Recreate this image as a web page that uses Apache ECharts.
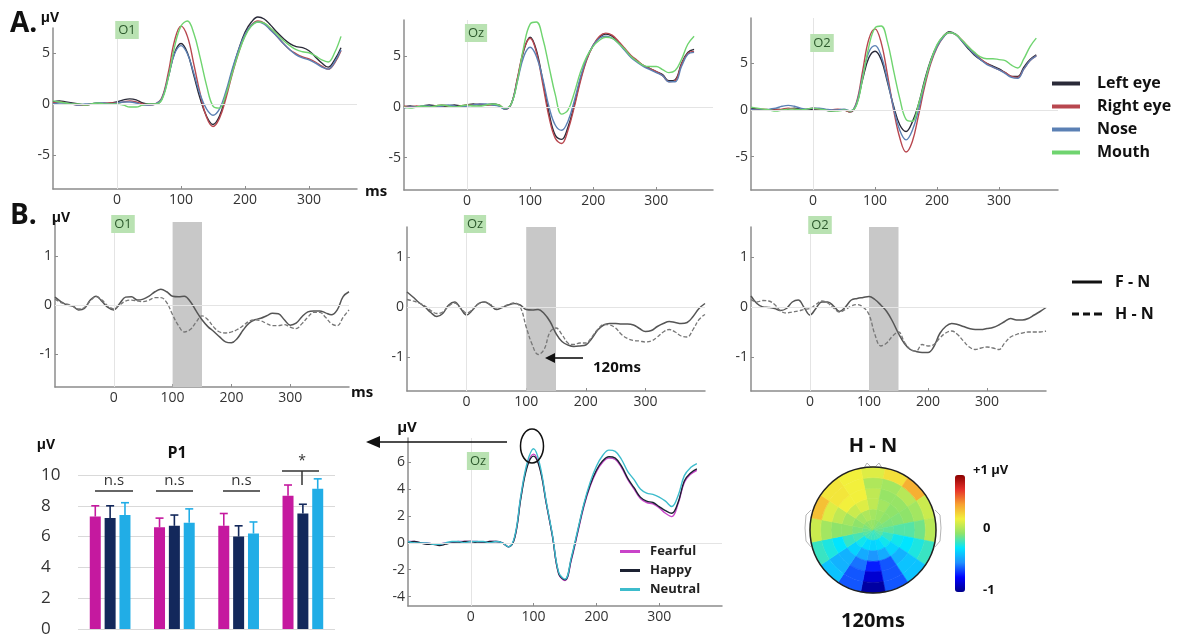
<!DOCTYPE html>
<html>
<head>
<meta charset="utf-8">
<script src="https://cdn.jsdelivr.net/npm/echarts@6/dist/echarts.min.js"></script>
<style>
  html, body { margin: 0; padding: 0; background: #fff; }
  #main { width: 1184px; height: 637px; }
</style>
</head>
<body>
<div id="main"></div>
<script>
// time bases (ms)
const tA = [-100,-90,-80,-70,-60,-50,-40,-30,-20,-10,0,10,20,30,40,50,60,70,80,90,100,110,120,130,140,150,160,170,180,190,200,210,220,230,240,250,260,270,280,290,300,310,320,330,340,350,360];
const tB = [-100,-90,-80,-70,-60,-50,-40,-30,-20,-10,0,10,20,30,40,50,60,70,80,90,100,110,120,130,140,150,160,170,180,190,200,210,220,230,240,250,260,270,280,290,300,310,320,330,340,350,360,370,380,390,400];

// A. ERPs per face region (µV)
const regions = ['Left eye', 'Right eye', 'Nose', 'Mouth'];
const o1Left  = [0.2,0.3,0.2,0.1,0.0,-0.1,0.0,0.1,0.0,0.1,0.2,0.4,0.5,0.4,0.1,0.0,0.0,0.5,2.6,5.0,5.9,5.0,2.8,0.5,-1.2,-2.0,-1.2,0.8,3.2,5.3,7.0,8.0,8.5,8.3,7.7,7.0,6.4,5.9,5.6,5.5,5.2,4.6,4.0,3.6,4.3,5.5];
const o1Right = [0.1,0.2,0.1,0.0,-0.1,-0.1,0.0,0.0,0.1,0.1,0.1,0.2,0.3,0.2,0.0,-0.1,0.0,0.6,3.0,6.2,7.6,6.6,3.9,1.0,-1.3,-2.2,-1.4,0.5,2.9,5.0,6.7,7.7,8.1,7.9,7.3,6.6,5.9,5.3,4.9,4.6,4.4,4.1,3.7,3.4,4.0,5.2];
const o1Nose  = [0.0,0.1,0.1,0.0,-0.1,0.0,0.0,0.1,0.1,0.0,0.1,0.2,0.2,0.1,-0.1,-0.1,0.0,0.5,2.6,4.9,5.7,4.9,3.0,0.9,-0.5,-1.1,-0.5,1.2,3.4,5.3,6.8,7.7,8.0,7.8,7.2,6.6,5.9,5.3,4.8,4.5,4.3,4.0,3.6,3.4,4.1,5.3];
const o1Mouth = [0.3,0.2,0.1,0.0,0.0,-0.1,0.0,0.1,0.0,0.0,0.0,-0.1,-0.3,-0.3,-0.1,0.0,0.0,0.4,2.5,5.6,7.6,8.1,6.9,4.5,1.8,-0.2,-0.4,0.9,3.0,5.0,6.6,7.6,8.0,7.9,7.4,6.8,6.2,5.7,5.3,5.1,5.0,4.7,4.3,4.1,5.0,6.6];

const ozLeft  = [0.0,0.1,0.0,0.1,0.2,0.1,0.0,0.1,0.2,0.1,0.2,0.3,0.2,0.2,0.3,0.2,-0.2,0.3,2.8,5.6,6.9,5.6,2.6,-0.6,-2.8,-3.2,-2.0,0.2,2.8,4.8,6.1,6.9,7.2,7.0,6.4,5.7,5.0,4.5,4.1,3.8,3.5,3.2,2.6,2.7,4.3,5.4,5.7];
const ozRight = [0.1,0.0,0.1,0.0,0.0,0.1,0.2,0.1,0.0,0.1,0.2,0.2,0.3,0.2,0.2,0.2,-0.2,0.3,2.9,5.7,6.8,5.4,2.3,-1.0,-3.1,-3.6,-2.3,0.0,2.6,4.7,6.1,7.0,7.3,7.1,6.5,5.8,5.1,4.6,4.1,3.8,3.5,3.1,2.5,2.6,4.2,5.3,5.5];
const ozNose  = [-0.1,0.0,0.0,0.1,0.1,0.0,0.1,0.2,0.1,0.0,0.1,0.2,0.3,0.3,0.2,0.1,-0.2,0.3,2.6,5.0,5.9,5.0,2.8,0.0,-1.8,-2.3,-1.4,0.6,3.0,4.9,6.1,6.8,7.0,6.8,6.3,5.6,4.9,4.4,4.0,3.7,3.4,3.1,2.5,2.5,4.0,5.2,5.4];
const ozMouth = [0.0,-0.1,0.0,0.1,0.0,0.1,0.2,0.1,0.0,0.1,0.2,0.1,0.1,0.2,0.3,0.2,-0.1,0.3,2.6,6.0,8.2,8.4,6.8,4.0,1.2,-0.7,-0.3,1.4,3.5,5.0,6.0,6.6,6.9,6.8,6.3,5.7,5.0,4.5,4.1,4.0,4.0,3.7,3.4,3.6,4.7,6.2,7.0];

const o2Left  = [0.2,0.1,0.0,0.0,0.1,0.0,0.1,0.2,0.1,0.0,0.1,0.1,0.0,-0.1,0.0,0.0,-0.2,0.6,3.3,5.6,6.3,5.4,3.0,0.4,-1.6,-2.3,-1.3,0.6,3.2,5.4,6.9,7.9,8.4,8.1,7.4,6.6,5.9,5.4,5.0,4.7,4.4,4.0,3.6,3.6,4.6,5.4,5.9];
const o2Right = [0.0,0.1,0.1,0.0,0.0,0.1,0.2,0.1,0.0,0.1,0.2,0.1,0.0,0.0,0.1,0.0,-0.2,0.8,4.2,7.6,8.7,7.2,3.8,0.0,-3.0,-4.5,-3.4,-0.6,2.5,5.0,6.7,7.8,8.3,8.1,7.5,6.8,6.1,5.5,5.0,4.6,4.3,4.0,3.6,3.5,4.4,5.3,5.8];
const o2Nose  = [0.1,0.0,0.0,0.1,0.2,0.4,0.5,0.4,0.2,0.1,0.2,0.2,0.1,0.0,0.0,0.1,-0.1,0.7,3.6,6.2,6.9,5.8,3.2,0.2,-2.2,-3.2,-2.2,0.0,2.9,5.2,6.8,7.8,8.3,8.1,7.4,6.7,6.0,5.4,4.9,4.6,4.3,3.9,3.5,3.4,4.4,5.3,5.8];
const o2Mouth = [0.3,0.2,0.1,0.0,-0.1,0.0,0.1,0.1,0.0,0.1,0.2,0.1,0.0,-0.1,-0.1,0.0,-0.1,0.5,3.4,6.8,8.8,9.0,7.3,4.2,1.2,-1.0,-1.2,0.6,3.0,5.3,7.0,7.9,8.3,8.1,7.5,6.8,6.2,5.7,5.5,5.5,5.4,5.3,4.8,4.5,5.5,6.8,7.7];

// B. difference waves (µV)
const o1FN = [0.16,0.07,0.0,-0.02,-0.1,-0.07,0.1,0.18,0.07,-0.05,-0.1,0.03,0.16,0.17,0.1,0.12,0.18,0.27,0.32,0.27,0.18,0.17,0.18,0.07,-0.12,-0.3,-0.44,-0.54,-0.65,-0.75,-0.77,-0.68,-0.51,-0.37,-0.3,-0.27,-0.22,-0.17,-0.18,-0.3,-0.41,-0.37,-0.24,-0.14,-0.12,-0.12,-0.16,-0.2,-0.1,0.17,0.27];
const o1HN = [0.12,0.05,0.02,-0.02,-0.08,-0.05,0.08,0.17,0.1,-0.02,-0.08,0.0,0.08,0.1,0.08,0.07,0.1,0.15,0.15,0.05,-0.2,-0.42,-0.55,-0.5,-0.35,-0.22,-0.3,-0.45,-0.55,-0.57,-0.55,-0.5,-0.42,-0.33,-0.3,-0.32,-0.38,-0.42,-0.42,-0.4,-0.45,-0.48,-0.38,-0.25,-0.15,-0.15,-0.25,-0.38,-0.42,-0.25,-0.1];
const ozFN = [0.3,0.2,0.09,0.0,-0.11,-0.19,-0.13,0.04,0.1,-0.03,-0.16,-0.06,0.07,0.1,0.04,-0.05,-0.01,0.04,0.07,0.04,-0.05,-0.06,-0.05,-0.13,-0.29,-0.53,-0.69,-0.76,-0.79,-0.78,-0.76,-0.63,-0.46,-0.36,-0.33,-0.33,-0.34,-0.34,-0.36,-0.43,-0.49,-0.47,-0.39,-0.33,-0.29,-0.31,-0.33,-0.31,-0.19,-0.03,0.07];
const ozHN = [0.15,0.12,0.08,0.02,-0.07,-0.13,-0.1,0.02,0.08,-0.02,-0.12,-0.05,0.06,0.1,0.05,-0.02,0.0,0.05,0.08,0.0,-0.4,-0.75,-0.95,-0.85,-0.5,-0.42,-0.55,-0.72,-0.75,-0.72,-0.72,-0.6,-0.45,-0.35,-0.36,-0.42,-0.55,-0.63,-0.67,-0.68,-0.7,-0.68,-0.6,-0.5,-0.45,-0.5,-0.58,-0.6,-0.45,-0.25,-0.15];
const o2FN = [0.22,0.07,0.0,-0.01,-0.03,-0.07,-0.03,0.1,0.14,-0.01,-0.16,-0.03,0.1,0.1,0.02,-0.09,0.0,0.14,0.17,0.19,0.21,0.15,0.04,-0.09,-0.29,-0.53,-0.73,-0.85,-0.89,-0.91,-0.91,-0.79,-0.53,-0.39,-0.33,-0.35,-0.39,-0.43,-0.45,-0.45,-0.43,-0.41,-0.36,-0.29,-0.23,-0.26,-0.26,-0.23,-0.16,-0.09,-0.01];
const o2HN = [0.15,0.1,0.13,0.12,0.05,-0.08,-0.12,-0.1,-0.08,-0.05,-0.03,0.05,0.12,0.08,-0.02,-0.1,-0.05,0.02,0.05,0.0,-0.15,-0.55,-0.78,-0.72,-0.58,-0.5,-0.7,-0.85,-0.88,-0.75,-0.78,-0.75,-0.62,-0.52,-0.48,-0.55,-0.68,-0.8,-0.85,-0.82,-0.8,-0.82,-0.85,-0.72,-0.6,-0.55,-0.52,-0.5,-0.5,-0.5,-0.48];

// Oz ERP per emotion (µV)
const emotions = ['Fearful', 'Happy', 'Neutral'];
const ozFearful = [0.1,0.1,0.0,0.0,-0.1,-0.1,0.0,0.0,0.1,0.1,0.1,0.1,0.0,0.1,0.1,0.0,-0.3,0.4,3.5,5.8,6.6,5.6,3.0,0.5,-2.3,-2.8,-1.3,0.7,2.7,4.2,5.3,6.0,6.3,6.2,5.6,4.7,4.0,3.3,3.0,2.9,2.6,2.2,1.95,2.9,4.5,5.1,5.4];
const ozHappy   = [0.0,0.1,0.0,-0.1,-0.1,-0.2,-0.1,0.0,0.0,0.1,0.1,0.0,0.0,0.1,0.1,0.0,-0.3,0.4,3.4,5.7,6.45,5.5,3.0,0.5,-2.3,-2.75,-1.2,0.8,2.8,4.3,5.4,6.1,6.4,6.3,5.7,4.8,4.1,3.4,3.1,3.0,2.7,2.4,2.2,3.0,4.6,5.2,5.5];
const ozNeutral = [0.1,0.0,0.0,0.0,-0.1,-0.1,0.0,0.1,0.1,0.0,0.1,0.1,0.1,0.0,0.1,0.0,-0.3,0.5,3.6,6.0,7.0,5.8,3.1,0.6,-2.2,-2.7,-1.1,0.9,2.9,4.5,5.7,6.5,6.9,6.8,6.2,5.3,4.7,4.0,3.7,3.6,3.4,3.1,2.7,3.5,5.0,5.6,5.9];

// P1 amplitude per region: mean and top of error bar (µV)
const barCats = ['Left eye', 'Right eye', 'Nose', 'Mouth'];
const p1Fearful    = [7.3, 6.6, 6.7, 8.65];
const p1FearfulErr = [8.0, 7.2, 7.5, 9.35];
const p1Happy      = [7.2, 6.7, 6.0, 7.5];
const p1HappyErr   = [8.0, 7.4, 6.7, 8.1];
const p1Neutral    = [7.4, 6.9, 6.2, 9.1];
const p1NeutralErr = [8.2, 7.8, 6.95, 9.75];
const sigLabels = ['n.s', 'n.s', 'n.s', '*'];

// H - N topography at 120 ms: 6 rings (centre -> edge) x 16 sectors clockwise from the nose
const topoRings = [
  [0.02, 0.0, -0.02, -0.04, -0.06, -0.09, -0.12, -0.14, -0.15, -0.14, -0.12, -0.09, -0.06, -0.03, 0.0, 0.02],
  [0.05, 0.03, 0.0, -0.03, -0.08, -0.15, -0.22, -0.28, -0.3, -0.28, -0.22, -0.12, -0.03, 0.0, 0.05, 0.08],
  [0.12, 0.05, 0.0, -0.02, -0.1, -0.22, -0.3, -0.42, -0.48, -0.42, -0.3, -0.15, 0.0, 0.05, 0.15, 0.2],
  [0.12, 0.02, 0.02, 0.0, -0.1, -0.25, -0.4, -0.6, -0.7, -0.55, -0.4, -0.25, 0.0, 0.12, 0.25, 0.25],
  [0.08, 0.05, 0.1, 0.05, -0.05, -0.2, -0.35, -0.6, -0.85, -0.6, -0.4, -0.2, 0.05, 0.2, 0.28, 0.25],
  [0.2, 0.3, 0.45, 0.15, 0.1, -0.15, -0.35, -0.6, -0.95, -0.6, -0.35, -0.15, 0.15, 0.4, 0.28, 0.25]
];
const SECTORS = 16;

const FONT = '"Open Sans", "DejaVu Sans", sans-serif';
const pairs = (t, v) => v.map((y, i) => [t[i], y]);

const chart = echarts.init(document.getElementById('main'));

function timeX(gi, min, max) {
  const ticks = [0, 100, 200, 300];
  return {
    type: 'value', gridIndex: gi, min, max,
    axisLine: { onZero: false, lineStyle: { color: '#8c8c8c', width: 1.5 } },
    axisTick: { show: true, inside: true, length: 3, customValues: ticks, lineStyle: { color: '#8c8c8c' } },
    axisLabel: { customValues: ticks, color: '#333', fontSize: 14, margin: 4, fontFamily: FONT },
    splitLine: { show: false }
  };
}
function timeY(gi, min, max, ticks) {
  return {
    type: 'value', gridIndex: gi, min, max,
    axisLine: { show: true, onZero: false, lineStyle: { color: '#8c8c8c', width: 1.5 } },
    axisTick: { show: true, inside: true, length: 3, customValues: ticks, lineStyle: { color: '#8c8c8c' } },
    axisLabel: { customValues: ticks, color: '#333', fontSize: 14, margin: 3, fontFamily: FONT },
    splitLine: { show: false }
  };
}

const zeroLines = {
  silent: true, symbol: 'none', animation: false,
  label: { show: false },
  lineStyle: { color: '#e4e4e4', type: 'solid', width: 1 },
  data: [{ yAxis: 0 }, { xAxis: 0 }]
};

function erp(name, gi, t, v, color, width, dash, extra) {
  return Object.assign({
    name, type: 'line', xAxisIndex: gi, yAxisIndex: gi,
    data: pairs(t, v), smooth: 0.4, symbol: 'none', showSymbol: false, clip: false,
    lineStyle: { color, width, type: dash || 'solid' }, itemStyle: { color },
    z: 3
  }, extra || {});
}

const regionColors = ['#2a2a38', '#b8474f', '#5b80b4', '#6fd46f'];
const panelA = [[o1Left, o1Right, o1Nose, o1Mouth], [ozLeft, ozRight, ozNose, ozMouth], [o2Left, o2Right, o2Nose, o2Mouth]];
const panelB = [[o1FN, o1HN], [ozFN, ozHN], [o2FN, o2HN]];

const series = [];
panelA.forEach((set, gi) => {
  set.forEach((v, k) => {
    series.push(erp(regions[k], gi, tA, v, regionColors[k], 1.4, null, k === 0 ? { markLine: zeroLines } : null));
  });
});
panelB.forEach((set, p) => {
  const gi = 3 + p;
  series.push(erp('F - N', gi, tB, set[0], '#555', 1.5, 'solid', {
    markLine: zeroLines,
    markArea: { silent: true, itemStyle: { color: '#c8c8c8' }, data: [[{ xAxis: 100 }, { xAxis: 150 }]] }
  }));
  series.push(erp('H - N', gi, tB, set[1], '#777', 1.3, [4, 2]));
});
const emoLine = ['#c944c9', '#1d2233', '#3dbccc'];
[ozFearful, ozHappy, ozNeutral].forEach((v, k) => {
  series.push(erp(emotions[k], 7, tA, v, emoLine[k], 1.4, null, k === 0 ? { markLine: zeroLines } : null));
});

// P1 bars
const barColors = ['#c5199f', '#13285b', '#21ade6'];
const barMeans = [p1Fearful, p1Happy, p1Neutral];
const barErrs = [p1FearfulErr, p1HappyErr, p1NeutralErr];
const BAR_W = 11, BAR_STEP = 14.85;
barMeans.forEach((m, k) => {
  series.push({
    name: emotions[k], type: 'bar', xAxisIndex: 6, yAxisIndex: 6,
    data: m, barWidth: BAR_W, barGap: '35%', itemStyle: { color: barColors[k] }, z: 2
  });
});
barMeans.forEach((m, k) => {
  const off = (k - 1) * BAR_STEP;
  series.push({
    name: emotions[k], type: 'custom', xAxisIndex: 6, yAxisIndex: 6, z: 4,
    data: m.map((v, i) => [i, v, barErrs[k][i]]),
    renderItem: (params, api) => {
      const lo = api.coord([api.value(0), api.value(1)]);
      const hi = api.coord([api.value(0), api.value(2)]);
      const x = lo[0] + off;
      const st = { stroke: barColors[k], lineWidth: 1.6 };
      return { type: 'group', children: [
        { type: 'line', shape: { x1: x, y1: lo[1], x2: x, y2: hi[1] }, style: st },
        { type: 'line', shape: { x1: x - 4, y1: hi[1], x2: x + 4, y2: hi[1] }, style: st }
      ] };
    }
  });
});

// topography
const topoData = [];
topoRings.forEach((ring, r) => ring.forEach((v, j) => topoData.push([r, j, v])));
const topoIndex = series.length;
const step = 360 / SECTORS;
series.push({
  name: 'H - N map', type: 'custom', coordinateSystem: 'polar', polarIndex: 0,
  data: topoData, encode: { radius: 0, angle: 1 },
  renderItem: (params, api) => {
    const cs = params.coordSys;
    const r = api.value(0), j = api.value(1);
    const pIn = api.coord([r, 0]), pOut = api.coord([r + 1, 0]);
    const rin = Math.hypot(pIn[0] - cs.cx, pIn[1] - cs.cy);
    const rout = Math.hypot(pOut[0] - cs.cx, pOut[1] - cs.cy);
    const a0 = (-90 + j * step - step / 2) * Math.PI / 180;
    const a1 = (-90 + j * step + step / 2) * Math.PI / 180;
    const c = api.visual('color');
    return {
      type: 'sector',
      shape: { cx: cs.cx, cy: cs.cy, r0: rin, r: rout, startAngle: a0, endAngle: a1, clockwise: true },
      style: { fill: c, stroke: c, lineWidth: 0.6 }
    };
  }
});

function txt(text, x, y, size, opt) {
  opt = opt || {};
  return {
    type: 'text', z: 20, silent: true,
    style: Object.assign({
      text, x, y, fill: opt.color || '#111',
      font: (opt.weight || 'bold') + ' ' + size + 'px ' + FONT,
      textAlign: opt.align || 'center', textVerticalAlign: 'middle',
      align: opt.align || 'center', verticalAlign: 'middle'
    }, opt.extra || {})
  };
}
function chan(text, x, y) {
  return txt(text, x, y, 13, { weight: 'normal', color: '#2d5a2d', extra: { backgroundColor: '#b9e2b2', padding: [3, 3, 2, 3] } });
}
const ink = { stroke: '#111', lineWidth: 1.6 };
const faint = { stroke: '#b5b5b5', lineWidth: 1, fill: 'none' };

const graphic = [
  txt('A.', 10, 24, 28, { align: 'left' }),
  txt('B.', 10, 216, 28, { align: 'left' }),
  txt('µV', 50, 18, 14),
  txt('ms', 376, 192, 15),
  txt('µV', 61, 218, 14),
  txt('ms', 362, 393, 15),
  chan('O1', 127, 30), chan('Oz', 476, 33), chan('O2', 822, 43),
  chan('O1', 123, 224), chan('Oz', 475, 224), chan('O2', 820, 225),
  chan('Oz', 478, 461),
  // 120 ms arrow
  { type: 'line', z: 20, shape: { x1: 583, y1: 358, x2: 552, y2: 358 }, style: ink },
  { type: 'polygon', z: 20, shape: { points: [[545, 358], [555, 353], [555, 363]] }, style: { fill: '#111' } },
  txt('120ms', 593, 368, 15, { align: 'left' }),
  // big arrow from P1 peak to bar chart
  { type: 'line', z: 20, shape: { x1: 507, y1: 442, x2: 378, y2: 442 }, style: ink },
  { type: 'polygon', z: 20, shape: { points: [[366, 442], [380, 436], [380, 448]] }, style: { fill: '#111' } },
  { type: 'ellipse', z: 20, shape: { cx: 532, cy: 446, rx: 11.5, ry: 17 }, style: { fill: 'none', stroke: '#111', lineWidth: 1.5 } },
  txt('µV', 407, 428, 15),
  // bar chart annotations
  txt('µV', 46, 445, 14),
  txt('P1', 177, 453, 16),
  // head outline marks (nose, ears)
  { type: 'polyline', z: 1, shape: { points: [[864, 468], [867, 463], [871, 467], [875, 467], [879, 463], [882, 468]] }, style: faint },
  { type: 'polyline', z: 1, shape: { points: [[811, 510], [806, 515], [805, 528], [806, 541], [811, 547]] }, style: faint },
  { type: 'polyline', z: 1, shape: { points: [[935, 510], [940, 515], [941, 528], [940, 541], [935, 547]] }, style: faint },
  // topography labels
  txt('H - N', 873, 446, 20),
  txt('120ms', 873, 621, 20),
  txt('+1 µV', 973, 470, 13, { align: 'left' }),
  txt('0', 983, 528, 13, { align: 'left' }),
  txt('-1', 983, 590, 13, { align: 'left' })
];
// significance markers above bar groups
const sigSpans = [[95, 133, 491], [156, 193, 491], [223, 260, 491], [282, 319, 471]];
sigSpans.forEach((s, i) => {
  graphic.push({ type: 'line', z: 20, shape: { x1: s[0], y1: s[2], x2: s[1], y2: s[2] }, style: { stroke: '#333', lineWidth: 1.5 } });
  const cx = (s[0] + s[1]) / 2;
  if (sigLabels[i] === '*') {
    graphic.push({ type: 'line', z: 20, shape: { x1: 302, y1: s[2], x2: 302, y2: s[2] + 14 }, style: { stroke: '#333', lineWidth: 1.5 } });
    graphic.push(txt('*', 302, s[2] - 10, 14, { weight: 'normal', color: '#333' }));
  } else {
    graphic.push(txt(sigLabels[i], cx, s[2] - 10, 15, { weight: 'normal', color: '#333' }));
  }
});

const legendText = (size) => ({ fontSize: size, lineHeight: size, fontWeight: 'bold', color: '#111', fontFamily: FONT });

const option = {
  animation: false,
  backgroundColor: '#fff',
  textStyle: { fontFamily: FONT },
  grid: [
    { left: 53, top: 28, width: 304, height: 161, outerBoundsMode: 'none' },
    { left: 404, top: 20, width: 309, height: 170, outerBoundsMode: 'none' },
    { left: 751, top: 18, width: 307, height: 172, outerBoundsMode: 'none' },
    { left: 55, top: 222, width: 294, height: 165, outerBoundsMode: 'none' },
    { left: 407, top: 227, width: 298, height: 164, outerBoundsMode: 'none' },
    { left: 751, top: 227, width: 295, height: 164, outerBoundsMode: 'none' },
    { left: 78, top: 475, width: 257, height: 154, outerBoundsMode: 'none' },
    { left: 408, top: 438, width: 314, height: 168, outerBoundsMode: 'none' }
  ],
  xAxis: [
    timeX(0, -100, 375), timeX(1, -100, 390), timeX(2, -100, 395),
    timeX(3, -100, 400), timeX(4, -100, 400), timeX(5, -100, 400),
    { type: 'category', gridIndex: 6, data: barCats, axisLine: { show: false }, axisTick: { show: false }, axisLabel: { show: false } },
    timeX(7, -100, 400)
  ],
  yAxis: [
    timeY(0, -8.3, 7.42, [-5, 0, 5]),
    timeY(1, -8.2, 8.6, [-5, 0, 5]),
    timeY(2, -8.57, 9.86, [-5, 0, 5]),
    timeY(3, -1.67, 1.69, [-1, 0, 1]),
    timeY(4, -1.68, 1.6, [-1, 0, 1]),
    timeY(5, -1.68, 1.6, [-1, 0, 1]),
    { type: 'value', gridIndex: 6, min: 0, max: 10, interval: 2,
      axisLine: { show: false }, axisTick: { show: false },
      splitLine: { lineStyle: { color: '#d9d9d9', width: 1 } },
      axisLabel: { align: 'left', margin: 37, fontSize: 17, color: '#333', fontFamily: FONT } },
    timeY(7, -4.7, 7.8, [-4, -2, 0, 2, 4, 6])
  ],
  polar: { center: [873, 530], radius: [0, 63] },
  radiusAxis: { type: 'value', min: 0, max: topoRings.length, show: false },
  angleAxis: { type: 'value', min: 0, max: 360, startAngle: 90, clockwise: true, z: 10,
    axisLine: { show: true, lineStyle: { color: '#222', width: 1.5 } },
    axisTick: { show: false }, axisLabel: { show: false }, splitLine: { show: false } },
  visualMap: {
    type: 'continuous', seriesIndex: topoIndex, dimension: 2, min: -1, max: 1,
    left: 955, top: 475, itemWidth: 10, itemHeight: 117, padding: 0,
    calculable: false, hoverLink: false,
    inRange: { color: ['#00008b', '#0000ff', '#1e90ff', '#00e5ff', '#8fe36a', '#f2f03c', '#f7a030', '#e6302a', '#8b0000'] }
  },
  legend: [
    { data: regions.map(n => ({ name: n, icon: 'rect' })), orient: 'vertical', left: 1052, top: 75.5, padding: 0,
      itemWidth: 28, itemHeight: 4, itemGap: 7,
      textStyle: Object.assign(legendText(16), { padding: [0, 0, 0, 12] }) },
    { data: [{ name: 'F - N', icon: 'rect' }, { name: 'H - N', icon: 'path://M0,0h7v3h-7z M11,0h7v3h-7z M22,0h8v3h-8z' }],
      orient: 'vertical', left: 1072, top: 274, padding: 0,
      itemWidth: 30, itemHeight: 3, itemGap: 16, itemStyle: { color: '#111' },
      textStyle: Object.assign(legendText(16), { padding: [0, 0, 0, 8] }) },
    { data: emotions.map(n => ({ name: n, icon: 'rect' })), orient: 'vertical', left: 620, top: 545, padding: 0,
      itemWidth: 20, itemHeight: 3, itemGap: 6,
      textStyle: Object.assign(legendText(13), { color: '#222', padding: [0, 0, 0, 5] }) }
  ],
  graphic,
  series
};
chart.setOption(option);
</script>
</body>
</html>
